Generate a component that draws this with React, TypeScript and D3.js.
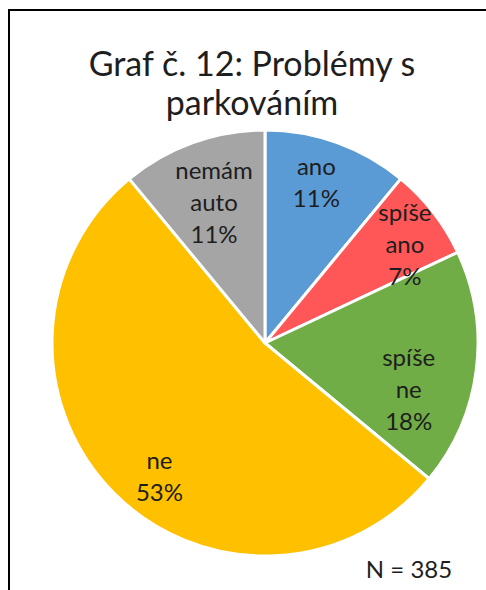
import React from "react";
import * as d3 from "d3";

const categories = ["ano", "spíše ano", "spíše ne", "ne", "nemám auto"];
const values = [11, 7, 18, 53, 11];
const labelLines = [["ano", "11%"], ["spíše", "ano", "7%"], ["spíše", "ne", "18%"], ["ne", "53%"], ["nemám", "auto", "11%"]];
const colors = ["#5B9BD5", "#FF5757", "#70AD47", "#FFC000", "#A5A5A5"];
const titleLines = ["Graf č. 12: Problémy s", "parkováním"];
const note = "N = 385";

// layout for labels: radius and angle offset (degrees)
const labelRadius = [168, 171, 151, 170, 149];
const labelAngleShift = [-2, 2.7, 10.7, -6.6, -0.2];

const W = 486;
const H = 590;
const cx = 265;
const cy = 343;
const R = 213;
const FONT = "Lato, 'Open Sans', sans-serif";

export default function App() {
  const pie = d3.pie<number>().sort(null).value((d) => d);
  const arcs = pie(values);
  const arc = d3.arc<d3.PieArcDatum<number>>().innerRadius(0).outerRadius(R);
  const lineH = 32;
  return (
    <svg width={W} height={H} style={{ position: "absolute", left: 0, top: 0, background: "#fff" }}>
      <rect x={9} y={10} width={W + 20} height={H + 20} fill="#fff" stroke="#000" strokeWidth={2} />
      <g fontFamily={FONT} fill="#1e1e1e" textAnchor="middle">
        {titleLines.map((t, i) => (
          <text key={i} x={252} y={76 + i * 39} fontSize={34}>
            {t}
          </text>
        ))}
      </g>
      <g transform={`translate(${cx},${cy})`}>
        {arcs.map((a, i) => (
          <path key={categories[i]} d={arc(a) || ""} fill={colors[i]} stroke="#fff" strokeWidth={3} strokeLinejoin="round" />
        ))}
        {arcs.map((a, i) => {
          const mid = (a.startAngle + a.endAngle) / 2 + (labelAngleShift[i] * Math.PI) / 180;
          const r = labelRadius[i];
          const x = r * Math.sin(mid);
          const y = -r * Math.cos(mid);
          const lines = labelLines[i];
          const top = y - ((lines.length - 1) * lineH) / 2;
          return (
            <text key={"l" + i} fontFamily={FONT} fontSize={24} fill="#1e1e1e" textAnchor="middle">
              {lines.map((ln, j) => (
                <tspan key={j} x={x} y={top + j * lineH} dy="0.35em">
                  {ln}
                </tspan>
              ))}
            </text>
          );
        })}
      </g>
      <text x={409} y={578} fontFamily={FONT} fontSize={24} fill="#1e1e1e" textAnchor="middle">
        {note}
      </text>
    </svg>
  );
}
